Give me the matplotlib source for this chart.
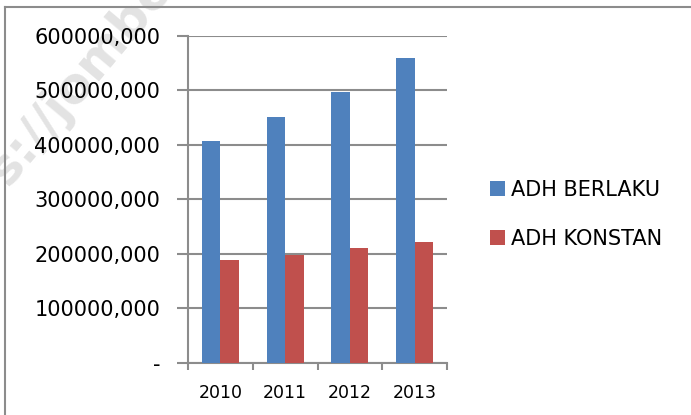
import numpy as np
import matplotlib
matplotlib.use("Agg")
import matplotlib.pyplot as plt
from matplotlib.ticker import FuncFormatter

# data
years = ["2010", "2011", "2012", "2013"]
adh_berlaku = [407000, 451000, 497000, 560000]
adh_konstan = [189000, 199000, 211000, 222000]
series_names = ["ADH BERLAKU", "ADH KONSTAN"]

plt.rcParams['font.family'] = ['DejaVu Sans']

fig = plt.figure(figsize=(6.91, 4.15), dpi=100)

# faint watermark, behind everything
fig.text(8 / 691, 1 - 188 / 415, "s://jombe", rotation=50, rotation_mode="anchor",
         fontsize=36, fontweight="bold", color="#e3e3e3", ha="left", va="baseline", zorder=-5)

ax = fig.add_axes([0.272, 0.1253, 0.375, 0.788])
ax.patch.set_alpha(0)

grey = "#8c8c8c"
x = np.arange(len(years))
w = 0.285
b1 = ax.bar(x - w / 2, adh_berlaku, w, color="#4f81bd", zorder=3, label=series_names[0])
b2 = ax.bar(x + w / 2, adh_konstan, w, color="#c0504d", zorder=3, label=series_names[1])

ax.set_xlim(-0.5, len(years) - 0.5)
ax.set_ylim(0, 600000)
ax.set_yticks(np.arange(0, 600001, 100000))

def fmt(v, pos):
    if v == 0:
        return "-"
    return "{:d},000".format(int(v))

ax.yaxis.set_major_formatter(FuncFormatter(fmt))
ax.set_xticks(x)
ax.set_xticklabels(years, fontsize=12.5)
ax.set_xticks(np.arange(-0.5, len(years)), minor=True)
ax.tick_params(axis="x", which="major", length=0, pad=15)
ax.tick_params(axis="x", which="minor", length=5, width=1.5, color=grey)
ax.tick_params(axis="y", length=8, width=1.5, color=grey, labelsize=15, pad=12)

ax.grid(axis="y", color=grey, linewidth=1.5, zorder=0)
for s in ["top", "right"]:
    ax.spines[s].set_visible(False)
ax.spines["left"].set_color(grey)
ax.spines["left"].set_linewidth(1.5)
ax.spines["bottom"].set_color(grey)
ax.spines["bottom"].set_linewidth(1.5)

fig.legend(handles=[b1, b2], loc="upper left", bbox_to_anchor=(0.697, 0.587),
           frameon=False, fontsize=15, handlelength=0.72, handleheight=0.72,
           handletextpad=0.3, labelspacing=1.39, borderaxespad=0)

# outer frame (left and top visible)
fig.add_artist(plt.Line2D([5 / 691, 5 / 691], [0, 1 - 7 / 415], color=grey, linewidth=1.5))
fig.add_artist(plt.Line2D([5 / 691, 1], [1 - 7 / 415, 1 - 7 / 415], color=grey, linewidth=1.5))

fig.savefig("out.png", dpi=100)
